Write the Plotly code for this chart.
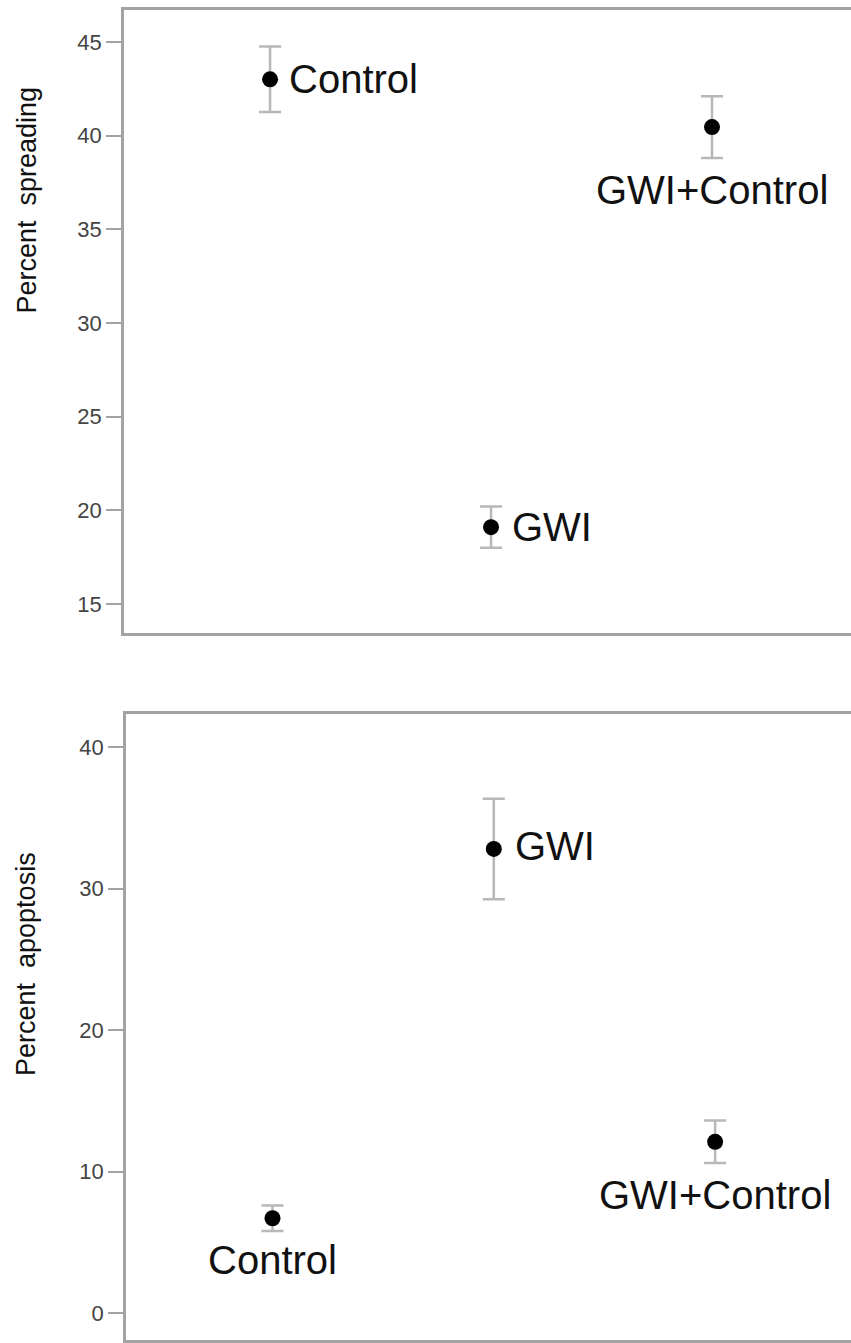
import plotly.graph_objects as go

categories = ["Control", "GWI", "GWI+Control"]
x_pos = [1, 2, 3]
spreading_mean = [43.0, 19.1, 40.45]
spreading_err = [1.75, 1.1, 1.65]
apoptosis_mean = [6.7, 32.8, 12.1]
apoptosis_err = [0.9, 3.55, 1.5]
spreading_ticks = [15, 20, 25, 30, 35, 40, 45]
apoptosis_ticks = [0, 10, 20, 30, 40]

W, H = 851, 1343
FONT = "Liberation Sans, Arial, sans-serif"
LINE = "#a3a3a3"
ERR = "#b8b8b8"

fig = go.Figure()

fig.add_trace(go.Scatter(
    x=x_pos, y=spreading_mean, mode="markers",
    marker=dict(size=16, color="black"),
    error_y=dict(type="data", array=spreading_err, color=ERR, thickness=2.5, width=11),
    xaxis="x", yaxis="y", showlegend=False, hoverinfo="skip"))
fig.add_trace(go.Scatter(
    x=x_pos, y=apoptosis_mean, mode="markers",
    marker=dict(size=16, color="black"),
    error_y=dict(type="data", array=apoptosis_err, color=ERR, thickness=2.5, width=11),
    xaxis="x2", yaxis="y2", showlegend=False, hoverinfo="skip"))

# label placement: (xshift, yshift, xanchor)
top_place = [(17, 0, "left"), (19, 0, "left"), (0, -63, "center")]
bot_place = [(0, -42, "center"), (19, 3, "left"), (0, -53, "center")]

ann = []
for i, c in enumerate(categories):
    xs, ys, xa = top_place[i]
    ann.append(dict(x=x_pos[i], y=spreading_mean[i], xref="x", yref="y", text=c,
                    showarrow=False, xanchor=xa, yanchor="middle", xshift=xs, yshift=ys,
                    font=dict(family=FONT, size=40, color="#111")))
    xs, ys, xa = bot_place[i]
    ann.append(dict(x=x_pos[i], y=apoptosis_mean[i], xref="x2", yref="y2", text=c,
                    showarrow=False, xanchor=xa, yanchor="middle", xshift=xs, yshift=ys,
                    font=dict(family=FONT, size=40, color="#111")))

ann.append(dict(x=26 / W, y=1 - 85 / H, xref="paper", yref="paper", text="Percent  spreading",
                textangle=-90, showarrow=False, xanchor="center", yanchor="top",
                font=dict(family=FONT, size=27, color="#111")))
ann.append(dict(x=26 / W, y=1 - 850 / H, xref="paper", yref="paper", text="Percent  apoptosis",
                textangle=-90, showarrow=False, xanchor="center", yanchor="top",
                font=dict(family=FONT, size=27, color="#111")))

yax_common = dict(ticks="outside", ticklen=15, tickwidth=1.5, tickcolor=LINE,
                  showline=True, linecolor=LINE, linewidth=2.5, mirror=False,
                  showgrid=False, zeroline=False,
                  tickfont=dict(family=FONT, size=22, color="#444"))
xax_common = dict(showline=True, linecolor=LINE, linewidth=2.5, mirror=True,
                  showgrid=False, zeroline=False, showticklabels=False, ticks="")

fig.update_layout(
    width=W, height=H,
    margin=dict(l=0, r=0, t=0, b=0),
    paper_bgcolor="white", plot_bgcolor="white",
    xaxis=dict(domain=[124 / W, 1], range=[0.339, 3.629], **xax_common),
    yaxis=dict(domain=[1 - 633 / H, 1 - 10 / H], range=[13.45, 46.7],
               tickvals=spreading_ticks, **yax_common),
    xaxis2=dict(domain=[126 / W, 1], range=[0.338, 3.614], anchor="y2", **xax_common),
    yaxis2=dict(domain=[1 - 1340 / H, 1 - 714 / H], range=[-1.9, 42.33], anchor="x2",
                tickvals=apoptosis_ticks, **yax_common),
    annotations=ann,
)

fig.write_html("out.html", config={"displayModeBar": False},
               post_script="document.body.style.margin='0';document.body.style.overflow='hidden';")
